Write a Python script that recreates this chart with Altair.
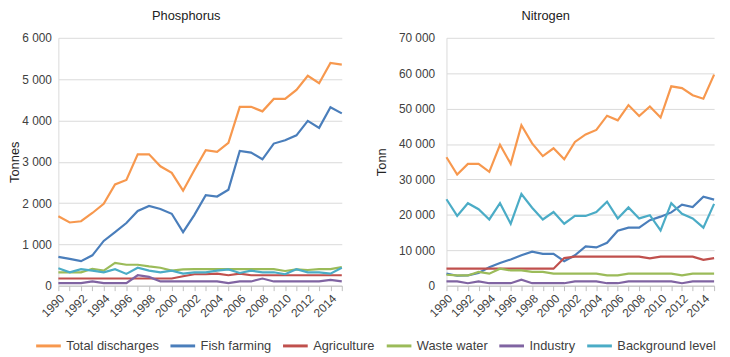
import altair as alt
import pandas as pd

years = list(range(1990, 2016))
series = ["Total discharges", "Fish farming", "Agriculture", "Waste water", "Industry", "Background level"]
colors = ["#F7984E", "#4A7EBB", "#C0504D", "#9BBB59", "#8064A2", "#4BACC6"]

# Phosphorus (tonnes)
p_total = [1680, 1530, 1560, 1760, 1980, 2450, 2560, 3180, 3180, 2890, 2730, 2300, 2800, 3280, 3240, 3460, 4330, 4330, 4220, 4520, 4520, 4740, 5080, 4900, 5390, 5350]
p_fish = [696, 650, 593, 735, 1083, 1296, 1518, 1810, 1929, 1858, 1740, 1296, 1715, 2190, 2158, 2324, 3260, 3220, 3060, 3440, 3520, 3640, 3990, 3820, 4320, 4170]
p_agri = [174, 174, 174, 174, 174, 174, 174, 174, 174, 174, 174, 229, 277, 277, 292, 253, 292, 253, 253, 253, 253, 253, 253, 253, 253, 253]
p_waste = [324, 324, 324, 410, 364, 553, 506, 506, 466, 435, 364, 395, 400, 400, 400, 400, 400, 400, 400, 400, 356, 395, 380, 400, 400, 450]
p_ind = [63, 63, 63, 103, 63, 63, 63, 253, 213, 103, 103, 103, 103, 103, 103, 63, 103, 103, 174, 103, 103, 103, 103, 103, 142, 103]
p_bg = [420, 324, 400, 364, 324, 400, 285, 435, 364, 324, 364, 292, 324, 324, 364, 395, 308, 364, 324, 324, 277, 400, 324, 324, 292, 435]

# Nitrogen (tonnes)
n_total = [36260, 31400, 34400, 34400, 32150, 39800, 34400, 45300, 40200, 36600, 38800, 35700, 40600, 42700, 44000, 48000, 46700, 51000, 47900, 50600, 47500, 56300, 55800, 53800, 52800, 59600]
n_fish = [3400, 2800, 2900, 3600, 5200, 6400, 7400, 8600, 9600, 9000, 9000, 6900, 8600, 11100, 10800, 12100, 15500, 16400, 16400, 18500, 19500, 20700, 22900, 22200, 25100, 24300]
n_agri = [4800, 4800, 4800, 4800, 4800, 4800, 4800, 4800, 4800, 4800, 4800, 7800, 8200, 8200, 8200, 8200, 8200, 8200, 8200, 7700, 8200, 8200, 8200, 8200, 7300, 7800]
n_waste = [3100, 2900, 2900, 3900, 3400, 4800, 4300, 4300, 3900, 3900, 3400, 3400, 3400, 3400, 3400, 2900, 2900, 3400, 3400, 3400, 3400, 3400, 2900, 3400, 3400, 3400]
n_ind = [1200, 1200, 700, 1200, 700, 700, 700, 1700, 700, 700, 700, 700, 1200, 1200, 1200, 700, 700, 1200, 1200, 1200, 1200, 1200, 700, 1200, 1200, 1200]
n_bg = [24400, 19700, 23300, 21600, 18700, 23300, 17500, 25900, 22000, 18700, 20800, 17500, 19700, 19700, 20800, 23700, 19000, 22100, 19000, 19900, 15600, 23300, 20300, 19000, 16400, 23100]

p_ticks = [0, 1000, 2000, 3000, 4000, 5000, 6000]
n_ticks = [0, 10000, 20000, 30000, 40000, 50000, 60000, 70000]


def to_long(lists):
    rows = []
    for i, s in enumerate(series):
        for y, v in zip(years, lists[i]):
            rows.append({"year": y, "value": v, "series": s, "order": i})
    return pd.DataFrame(rows)


p_df = to_long([p_total, p_fish, p_agri, p_waste, p_ind, p_bg])
n_df = to_long([n_total, n_fish, n_agri, n_waste, n_ind, n_bg])

FONT = "Liberation Sans"
TXT = "#404040"

color = alt.Color(
    "series:N",
    sort=series,
    scale=alt.Scale(domain=series, range=colors),
    legend=alt.Legend(
        title=None,
        orient="none",
        legendX=-24,
        legendY=298,
        direction="horizontal",
        symbolType="stroke",
        symbolSize=625,
        symbolStrokeWidth=3,
        labelFontSize=13,
        labelFont=FONT,
        labelColor=TXT,
        labelOffset=4,
        columnPadding=5,
        padding=0,
    ),
)

x_axis = alt.Axis(
    values=years,
    labelExpr="datum.value % 2 == 0 ? format(datum.value, 'd') : ''",
    labelAngle=-45,
    labelFontSize=12,
    labelColor=TXT,
    labelOverlap=False,
    labelPadding=2,
    grid=False,
    tickSize=5,
    tickColor="#bfbfbf",
    domainColor="#bfbfbf",
    title=None,
)


def panel(df, ticks, ttl, ytitle, width, title_dx, label_pad, title_pad):
    return (
        alt.Chart(df)
        .mark_line(strokeWidth=2.2)
        .encode(
            x=alt.X("year:Q", scale=alt.Scale(domain=[1990, 2015], nice=False, zero=False), axis=x_axis),
            y=alt.Y(
                "value:Q",
                scale=alt.Scale(domain=[ticks[0], ticks[-1]], nice=False),
                axis=alt.Axis(
                    values=ticks,
                    labelExpr="replace(format(datum.value, ','), ',', ' ')",
                    labelFontSize=12,
                    labelColor=TXT,
                    labelPadding=label_pad,
                    ticks=False,
                    gridColor="#d9d9d9",
                    domainColor="#d9d9d9",
                    title=ytitle,
                    titleFontSize=13,
                    titleFontWeight="normal",
                    titleColor="#222222",
                    titlePadding=title_pad,
                ),
            ),
            color=color,
            order=alt.Order("order:Q"),
            detail="series:N",
        )
        .properties(
            width=width,
            height=251,
            title=alt.TitleParams(
                ttl, fontSize=13, fontWeight="normal", font=FONT, color="#222222",
                anchor="middle", frame="group", dx=title_dx, offset=9,
            ),
        )
    )


p_chart = panel(p_df, p_ticks, "Phosphorus", "Tonnes", 287, -14, 7, 0)
n_chart = panel(n_df, n_ticks, "Nitrogen", "Tonn", 271, -35, 12, 10)

chart = (
    alt.hconcat(p_chart, n_chart, spacing=26)
    .properties(padding={"left": 0, "top": 0, "right": 0, "bottom": 0})
    .configure(font=FONT)
    .configure_view(stroke=None)
)

chart.save("out.html", embed_options={"renderer": "svg", "actions": False})
